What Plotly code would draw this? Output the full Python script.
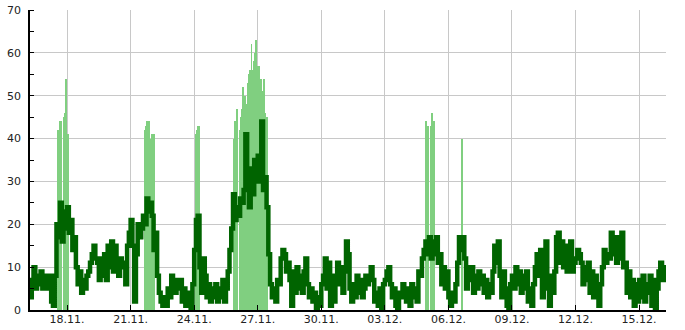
import pandas as pd
import plotly.graph_objects as go

# ---- dark green line: 2-hourly values, starting 16.11. 06:00 ----
day_16_11 = [3, 7, 10, 5, 8, 6, 9, 5, 8]                     # 06..22h
day_17_11 = [7, 5, 8, 2, 1, 8, 20, 17, 25, 16, 23, 19]
day_18_11 = [24, 18, 21, 14, 17, 10, 6, 9, 4, 7, 5, 8]
day_19_11 = [9, 11, 13, 15, 12, 11, 7, 12, 8, 13, 7, 15]
day_20_11 = [10, 16, 9, 15, 12, 8, 12, 10, 11, 6, 15, 18]
day_21_11 = [21, 15, 2, 13, 20, 17, 19, 22, 20, 26, 23, 25]
day_22_11 = [22, 14, 18, 8, 4, 2, 1, 3, 1, 5, 3, 8]
day_23_11 = [6, 4, 7, 5, 7, 2, 5, 1, 4, 2, 0, 6]
day_24_11 = [14, 21, 22, 10, 4, 12, 8, 3, 6, 2, 5, 3]
day_25_11 = [6, 2, 5, 3, 7, 2, 5, 9, 14, 19, 27, 21]
day_26_11 = [24, 22, 26, 25, 28, 41, 30, 24, 33, 27, 35, 30]
day_27_11 = [36, 30, 44, 28, 31, 24, 13, 6, 3, 5, 2, 7]
day_28_11 = [6, 12, 14, 13, 9, 11, 7, 1, 9, 4, 10, 5]
day_29_11 = [8, 4, 9, 12, 6, 3, 5, 2, 4, 0, 3, 1]
day_30_11 = [6, 8, 12, 5, 11, 1, 8, 2, 7, 11, 6, 10]
day_01_12 = [4, 9, 16, 13, 5, 2, 6, 3, 8, 4, 7, 3]
day_02_12 = [5, 8, 6, 8, 10, 7, 2, 4, 1, 5, 0, 6]
day_03_12 = [7, 9, 10, 6, 3, 5, 1, 0, 4, 3, 6, 4]
day_04_12 = [2, 5, 1, 6, 3, 5, 2, 9, 8, 12, 14, 16]
day_05_12 = [13, 17, 12, 16, 13, 17, 11, 13, 6, 10, 5, 9]
day_06_12 = [3, 1, 4, 2, 6, 11, 17, 14, 17, 12, 5, 10]
day_07_12 = [7, 10, 4, 8, 5, 9, 6, 8, 4, 7, 3, 6]
day_08_12 = [4, 9, 15, 11, 16, 8, 3, 9, 5, 1, 0, 6]
day_09_12 = [8, 5, 10, 6, 9, 4, 8, 5, 9, 2, 5, 1]
day_10_12 = [6, 10, 13, 8, 14, 3, 11, 16, 5, 1, 8, 4]
day_11_12 = [9, 17, 18, 11, 16, 10, 15, 9, 13, 16, 9, 11]
day_12_12 = [12, 14, 13, 11, 6, 10, 7, 11, 4, 9, 3, 8]
day_13_12 = [5, 1, 6, 10, 14, 11, 13, 12, 18, 13, 17, 11]
day_14_12 = [17, 12, 18, 10, 11, 4, 9, 3, 7, 1, 6, 2]
day_15_12 = [7, 3, 8, 2, 6, 4, 8, 1, 7, 0, 5, 9]
day_16_12 = [11, 7, 10, 8]                                   # 00..06h

line_days = [day_16_11, day_17_11, day_18_11, day_19_11, day_20_11, day_21_11,
             day_22_11, day_23_11, day_24_11, day_25_11, day_26_11, day_27_11,
             day_28_11, day_29_11, day_30_11, day_01_12, day_02_12, day_03_12,
             day_04_12, day_05_12, day_06_12, day_07_12, day_08_12, day_09_12,
             day_10_12, day_11_12, day_12_12, day_13_12, day_14_12, day_15_12,
             day_16_12]
line_values = [v for d in line_days for v in d]
line_times = pd.date_range("2023-11-16 06:00", periods=len(line_values), freq="2h")

# ---- light green bars: hourly values ----
bar_times = [
    "2023-11-17 14:00", "2023-11-17 15:00", "2023-11-17 16:00", "2023-11-17 17:00",
    "2023-11-17 21:00", "2023-11-17 22:00", "2023-11-17 23:00", "2023-11-18 00:00",
    "2023-11-18 01:00",
    "2023-11-21 16:00", "2023-11-21 17:00", "2023-11-21 18:00", "2023-11-21 19:00",
    "2023-11-21 20:00", "2023-11-21 21:00", "2023-11-21 22:00", "2023-11-22 00:00",
    "2023-11-22 02:00",
    "2023-11-24 02:00", "2023-11-24 03:00", "2023-11-24 04:00", "2023-11-24 05:00",
    "2023-11-25 21:00", "2023-11-25 22:00", "2023-11-25 23:00", "2023-11-26 00:00",
    "2023-11-26 01:00",
    "2023-11-26 04:00", "2023-11-26 05:00", "2023-11-26 06:00", "2023-11-26 07:00",
    "2023-11-26 08:00", "2023-11-26 09:00", "2023-11-26 10:00", "2023-11-26 11:00",
    "2023-11-26 13:00", "2023-11-26 14:00", "2023-11-26 15:00", "2023-11-26 16:00",
    "2023-11-26 17:00", "2023-11-26 18:00", "2023-11-26 19:00", "2023-11-26 20:00",
    "2023-11-26 21:00", "2023-11-26 22:00", "2023-11-26 23:00", "2023-11-27 00:00",
    "2023-11-27 01:00", "2023-11-27 02:00", "2023-11-27 03:00", "2023-11-27 04:00",
    "2023-11-27 05:00", "2023-11-27 06:00", "2023-11-27 07:00", "2023-11-27 08:00",
    "2023-11-27 09:00", "2023-11-27 10:00",
    "2023-12-04 23:00", "2023-12-05 00:00", "2023-12-05 01:00",
    "2023-12-05 04:00", "2023-12-05 05:00", "2023-12-05 06:00", "2023-12-05 07:00",
    "2023-12-05 08:00",
    "2023-12-06 15:00",
]
bar_values = [
    42, 42, 44, 44,
    45, 46, 54, 41,
    41,
    42, 43, 43, 44,
    44, 44, 40, 41,
    41,
    41, 42, 43, 43,
    40, 44, 44, 47,
    47,
    42, 45, 47, 52,
    46, 50, 50, 48,
    53, 55, 56, 54,
    62, 56, 54, 58,
    60, 63, 57, 55,
    57, 52, 51, 54,
    51, 48, 54, 46,
    45, 45,
    44, 43, 43,
    43, 46, 43, 44,
    44,
    40,
]

# ---- axes ----
x_tickvals = ["2023-11-18", "2023-11-21", "2023-11-24", "2023-11-27", "2023-11-30",
              "2023-12-03", "2023-12-06", "2023-12-09", "2023-12-12", "2023-12-15"]
x_ticktext = ["18.11.", "21.11.", "24.11.", "27.11.", "30.11.",
              "03.12.", "06.12.", "09.12.", "12.12.", "15.12."]
y_tickvals = [0, 10, 20, 30, 40, 50, 60, 70]
x_range = ["2023-11-16 06:00", "2023-12-16 06:30"]
y_range = [0, 70]

fig = go.Figure()
fig.add_trace(go.Bar(
    x=pd.to_datetime(bar_times), y=bar_values, width=3600000,
    marker=dict(color="#80cf80", line=dict(width=0)), hoverinfo="skip",
))
fig.add_trace(go.Scatter(
    x=line_times, y=line_values, mode="lines",
    line=dict(color="#006400", width=4.5, shape="hv"),
))

axis_font = dict(family="DejaVu Sans", size=11, color="#222222")
fig.update_layout(
    width=685, height=330,
    margin=dict(l=30, r=19, t=10, b=20, autoexpand=False),
    paper_bgcolor="white", plot_bgcolor="white",
    showlegend=False, bargap=0,
    font=axis_font,
)
fig.update_xaxes(
    type="date", range=x_range, automargin=False,
    tickvals=x_tickvals, ticktext=x_ticktext,
    ticks="inside", ticklen=5, tickcolor="black", tickwidth=1,
    showgrid=True, gridcolor="#c8c8c8", gridwidth=1,
    showline=True, linecolor="black", linewidth=1.5,
    zeroline=False, tickfont=axis_font, ticklabelstandoff=-2,
)
fig.update_yaxes(
    range=y_range, tickvals=y_tickvals, automargin=False,
    ticks="", showgrid=True, gridcolor="#c8c8c8", gridwidth=1,
    minor=dict(ticks="inside", ticklen=4, tickcolor="black", dtick=5, tick0=5, showgrid=False),
    showline=True, linecolor="black", linewidth=1.5,
    zeroline=False, tickfont=axis_font, ticklabelstandoff=5,
)

fig.write_html("out.html")
